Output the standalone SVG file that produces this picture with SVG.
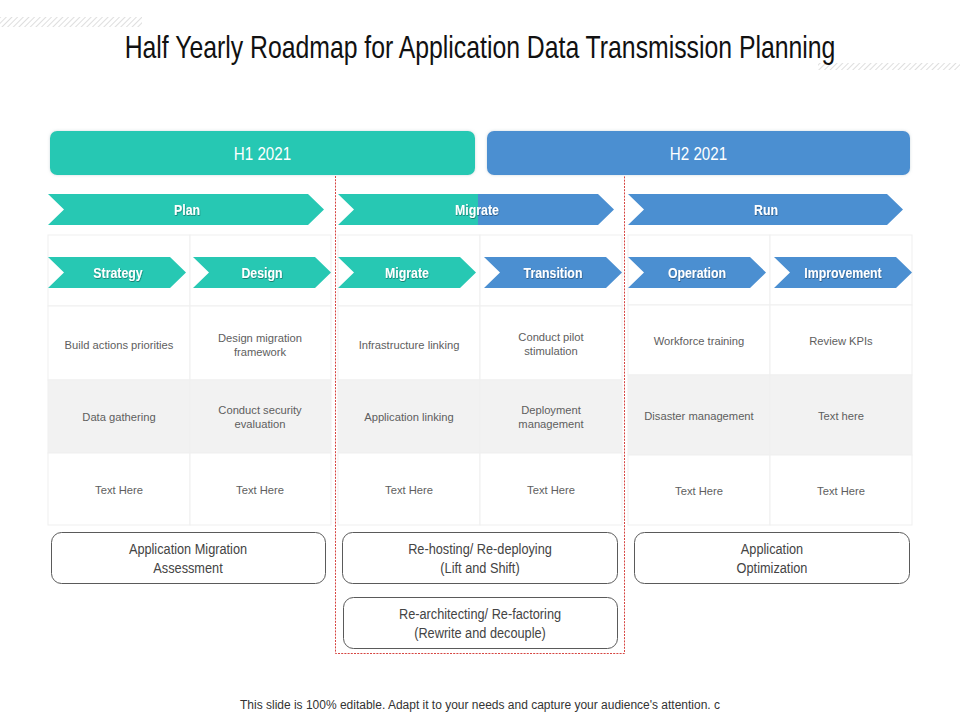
<svg xmlns="http://www.w3.org/2000/svg" width="960" height="720" viewBox="0 0 960 720">
<defs>
  <pattern id="hatch" width="4" height="4" patternUnits="userSpaceOnUse" patternTransform="rotate(45)">
    <rect width="4" height="4" fill="#ffffff"/>
    <line x1="0" y1="0" x2="0" y2="4" stroke="#d6d6d6" stroke-width="1.6"/>
  </pattern>
  <linearGradient id="migGrad" gradientUnits="userSpaceOnUse" x1="338" y1="0" x2="614" y2="0">
    <stop offset="0.507" stop-color="#27c8b3"/>
    <stop offset="0.507" stop-color="#4b8fd1"/>
  </linearGradient>
  <filter id="glow" x="-5%" y="-20%" width="110%" height="140%">
    <feDropShadow dx="0" dy="0" stdDeviation="1.5" flood-color="#9fb3bd" flood-opacity="0.5"/>
  </filter>
  <filter id="tshadow" x="-10%" y="-30%" width="120%" height="160%">
    <feDropShadow dx="0.6" dy="0.8" stdDeviation="0.4" flood-color="#000000" flood-opacity="0.45"/>
  </filter>
</defs>
<style>
  .title { font-family: "Liberation Sans", Arial, sans-serif; font-size: 31.5px; fill: #111111; text-anchor: middle; }
  .hdr { font-family: "Liberation Sans", Arial, sans-serif; font-size: 18.5px; fill: #ffffff; text-anchor: middle; }
  .chev { font-family: "Liberation Sans", Arial, sans-serif; font-size: 14.5px; font-weight: bold; fill: #ffffff; text-anchor: middle; }
  .cell { font-family: "Liberation Sans", Arial, sans-serif; font-size: 11.2px; fill: #5e5e5e; text-anchor: middle; }
  .box { fill: #ffffff; stroke: #5a5a5a; stroke-width: 1; }
  .boxt { font-family: "Liberation Sans", Arial, sans-serif; font-size: 15px; fill: #444444; text-anchor: middle; }
  .teal { fill: #27c8b3; }
  .blue { fill: #4b8fd1; }
  .grid { fill: #ffffff; stroke: #efefef; stroke-width: 1; }
  .grey { fill: #f2f2f2; stroke: #efefef; stroke-width: 1; }
  .foot { font-family: "Liberation Sans", Arial, sans-serif; font-size: 12px; fill: #333333; text-anchor: middle; }
</style>
<rect width="960" height="720" fill="#ffffff"/>

<!-- decorations -->
<rect x="0" y="17" width="142" height="10" fill="url(#hatch)"/>
<rect x="818" y="63" width="142" height="7" fill="url(#hatch)"/>

<text class="title" transform="translate(480,58) scale(0.787,1)">Half Yearly Roadmap for Application Data Transmission Planning</text>

<!-- table grid -->
<g id="table">
  <g id="sec-left">
    <rect class="grid" x="48" y="235" width="142" height="71"/>
    <rect class="grid" x="190" y="235" width="141" height="71"/>
    <rect class="grid" x="48" y="306" width="142" height="74"/>
    <rect class="grid" x="190" y="306" width="141" height="74"/>
    <rect class="grey" x="48" y="380" width="142" height="73"/>
    <rect class="grey" x="190" y="380" width="141" height="73"/>
    <rect class="grid" x="48" y="453" width="142" height="72"/>
    <rect class="grid" x="190" y="453" width="141" height="72"/>
  </g>
  <g id="sec-mid">
    <rect class="grid" x="338" y="235" width="142" height="71"/>
    <rect class="grid" x="480" y="235" width="142" height="71"/>
    <rect class="grid" x="338" y="306" width="142" height="74"/>
    <rect class="grid" x="480" y="306" width="142" height="74"/>
    <rect class="grey" x="338" y="380" width="142" height="73"/>
    <rect class="grey" x="480" y="380" width="142" height="73"/>
    <rect class="grid" x="338" y="453" width="142" height="72"/>
    <rect class="grid" x="480" y="453" width="142" height="72"/>
  </g>
  <g id="sec-right">
    <rect class="grid" x="628" y="235" width="142" height="70"/>
    <rect class="grid" x="770" y="235" width="142" height="70"/>
    <rect class="grid" x="628" y="305" width="142" height="70"/>
    <rect class="grid" x="770" y="305" width="142" height="70"/>
    <rect class="grey" x="628" y="375" width="142" height="80"/>
    <rect class="grey" x="770" y="375" width="142" height="80"/>
    <rect class="grid" x="628" y="455" width="142" height="70"/>
    <rect class="grid" x="770" y="455" width="142" height="70"/>
  </g>
</g>

<!-- red dashed frame -->
<path d="M335.5,176 V653.5 H624.5 V176" fill="none" stroke="#d64541" stroke-width="1" stroke-dasharray="2,1.2"/>

<!-- header bars -->
<g id="h1">
  <rect class="teal" x="50" y="131" width="425" height="44" rx="7" filter="url(#glow)"/>
  <text class="hdr" transform="translate(262.5,160) scale(0.82,1)">H1 2021</text>
</g>
<g id="h2">
  <rect class="blue" x="487" y="131" width="423" height="44" rx="7" filter="url(#glow)"/>
  <text class="hdr" transform="translate(698.5,160) scale(0.82,1)">H2 2021</text>
</g>

<!-- phase chevrons -->
<g id="plan">
  <polygon class="teal" points="48,194 308,194 324,209.5 308,225 48,225 64,209.5"/>
  <text class="chev" transform="translate(187,214.5) scale(0.85,1)" filter="url(#tshadow)">Plan</text>
</g>
<g id="migrate-phase">
  <polygon fill="url(#migGrad)" points="338,194 598,194 614,209.5 598,225 338,225 354,209.5"/>
  <text class="chev" transform="translate(477,214.5) scale(0.85,1)" filter="url(#tshadow)">Migrate</text>
</g>
<g id="run">
  <polygon class="blue" points="628,194 887,194 903,209.5 887,225 628,225 644,209.5"/>
  <text class="chev" transform="translate(766,214.5) scale(0.85,1)" filter="url(#tshadow)">Run</text>
</g>

<!-- step chevrons -->
<g id="strategy">
  <polygon class="teal" points="48,257 170,257 186,272.5 170,288 48,288 64,272.5"/>
  <text class="chev" transform="translate(118,277.5) scale(0.85,1)" filter="url(#tshadow)">Strategy</text>
</g>
<g id="design">
  <polygon class="teal" points="193,257 315,257 331,272.5 315,288 193,288 209,272.5"/>
  <text class="chev" transform="translate(262,277.5) scale(0.85,1)" filter="url(#tshadow)">Design</text>
</g>
<g id="migrate-step">
  <polygon class="teal" points="338,257 460,257 476,272.5 460,288 338,288 354,272.5"/>
  <text class="chev" transform="translate(407,277.5) scale(0.85,1)" filter="url(#tshadow)">Migrate</text>
</g>
<g id="transition">
  <polygon class="blue" points="484,257 606,257 622,272.5 606,288 484,288 500,272.5"/>
  <text class="chev" transform="translate(553,277.5) scale(0.85,1)" filter="url(#tshadow)">Transition</text>
</g>
<g id="operation">
  <polygon class="blue" points="628,257 750,257 766,272.5 750,288 628,288 644,272.5"/>
  <text class="chev" transform="translate(697,277.5) scale(0.85,1)" filter="url(#tshadow)">Operation</text>
</g>
<g id="improvement">
  <polygon class="blue" points="774,257 896,257 912,272.5 896,288 774,288 790,272.5"/>
  <text class="chev" transform="translate(843,277.5) scale(0.85,1)" filter="url(#tshadow)">Improvement</text>
</g>

<!-- cell texts -->
<g id="cells">
  <text class="cell" x="119" y="349">Build actions priorities</text>
  <text class="cell" x="260" y="342">Design migration</text>
  <text class="cell" x="260" y="356">framework</text>
  <text class="cell" x="119" y="421">Data gathering</text>
  <text class="cell" x="260" y="414">Conduct security</text>
  <text class="cell" x="260" y="428">evaluation</text>
  <text class="cell" x="119" y="494">Text Here</text>
  <text class="cell" x="260" y="494">Text Here</text>

  <text class="cell" x="409" y="349">Infrastructure linking</text>
  <text class="cell" x="551" y="341">Conduct pilot</text>
  <text class="cell" x="551" y="355">stimulation</text>
  <text class="cell" x="409" y="421">Application linking</text>
  <text class="cell" x="551" y="414">Deployment</text>
  <text class="cell" x="551" y="428">management</text>
  <text class="cell" x="409" y="494">Text Here</text>
  <text class="cell" x="551" y="494">Text Here</text>

  <text class="cell" x="699" y="345">Workforce training</text>
  <text class="cell" x="841" y="345">Review KPIs</text>
  <text class="cell" x="699" y="420">Disaster management</text>
  <text class="cell" x="841" y="420">Text here</text>
  <text class="cell" x="699" y="495">Text Here</text>
  <text class="cell" x="841" y="495">Text Here</text>
</g>

<!-- bottom boxes -->
<g id="box-assessment">
  <rect class="box" x="51.5" y="532.5" width="274" height="51" rx="10"/>
  <text class="boxt" transform="translate(188,554) scale(0.85,1)">Application Migration</text>
  <text class="boxt" transform="translate(188,573) scale(0.85,1)">Assessment</text>
</g>
<g id="box-rehost">
  <rect class="box" x="342.5" y="532.5" width="275" height="51" rx="10"/>
  <text class="boxt" transform="translate(480,554) scale(0.85,1)">Re-hosting/ Re-deploying</text>
  <text class="boxt" transform="translate(480,573) scale(0.85,1)">(Lift and Shift)</text>
</g>
<g id="box-rearch">
  <rect class="box" x="343.5" y="597.5" width="274" height="51" rx="10"/>
  <text class="boxt" transform="translate(480,619) scale(0.85,1)">Re-architecting/ Re-factoring</text>
  <text class="boxt" transform="translate(480,638) scale(0.85,1)">(Rewrite and decouple)</text>
</g>
<g id="box-optim">
  <rect class="box" x="634.5" y="532.5" width="275" height="51" rx="10"/>
  <text class="boxt" transform="translate(772,554) scale(0.85,1)">Application</text>
  <text class="boxt" transform="translate(772,573) scale(0.85,1)">Optimization</text>
</g>

<g id="connectors"></g>

<text class="foot" x="480" y="709" textLength="480" lengthAdjust="spacingAndGlyphs">This slide is 100% editable. Adapt it to your needs and capture your audience's attention. c</text>
</svg>
